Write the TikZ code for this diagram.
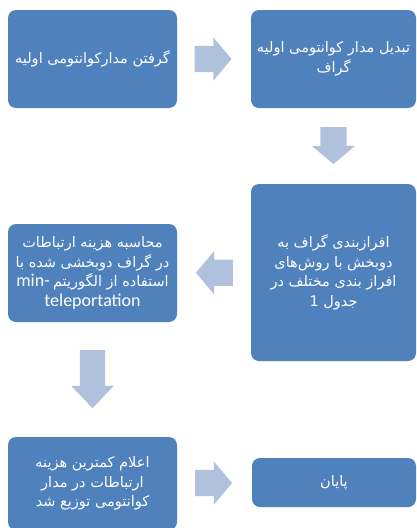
\documentclass[tikz,border=0pt]{standalone}
\usepackage{fontspec}
\setmainfont{Carlito}
\newfontfamily\arabicfont[Script=Arabic]{DejaVu Sans}
\TeXXeTstate=1
\usetikzlibrary{shapes.arrows,calc}
\definecolor{stepblue}{HTML}{4F81BD}
\definecolor{arrowblue}{HTML}{B0C1DE}
\newcommand{\fa}[1]{{\arabicfont\beginR #1\endR}}
\newcommand{\la}[1]{{\fontsize{18}{19}\selectfont #1}}
\tikzset{stage/.style={rectangle,rounded corners=8pt,fill=stepblue,text=white,align=center,inner sep=0pt,font=\fontsize{14.5}{19.5}\selectfont},flow/.style={single arrow,fill=arrowblue,inner xsep=0pt,inner ysep=13pt,single arrow head extend=8.5pt,single arrow tip angle=100,minimum height=37pt},downflow/.style={flow,shape border rotate=270,inner xsep=13pt,inner ysep=0pt}}
\begin{document}
\begin{tikzpicture}[x=1pt,y=-1pt]
\useasboundingbox (0,0) rectangle (417,528);
\clip (0,0) rectangle (417,528);
\node[stage,minimum width=169pt,minimum height=98pt] (get) at (92.5,59) {\fa{گرفتن مدارکوانتومی اولیه}};
\node[stage,minimum width=165pt,minimum height=98pt] (conv) at (333.5,59) {\fa{تبدیل مدار کوانتومی اولیه}\\\fa{گراف}};
\node[stage,minimum width=165pt,minimum height=177pt] (part) at (333.5,272.5) {\fa{افرازبندی گراف به}\\\fa{دوبخش با روش‌های}\\\fa{افراز بندی مختلف در}\\\fa{جدول 1}};
\node[stage,minimum width=169pt,minimum height=98pt] (cost) at (92.5,273) {\fa{محاسبه هزینه ارتباطات}\\\fa{در گراف دوبخشی شده با}\\\la{min-}\ \fa{استفاده از الگوریتم}\\\la{teleportation}};
\node[stage,minimum width=169pt,minimum height=93pt] (best) at (92.5,483.5) {\fa{اعلام کمترین هزینه}\\\fa{ارتباطات در مدار}\\\fa{کوانتومی توزیع شد}};
\node[stage,minimum width=164pt,minimum height=49pt] (done) at (334,482.5) {\fa{پایان}};
% block arrows between the stages
\node[flow,xshift=-6.5pt] (a1) at ($(get.east)!.5!(conv.west)$) {};
\node[downflow,yshift=6pt] (a2) at ($(conv.south)!.5!(part.north)$) {};
\node[flow,shape border rotate=180,xshift=6pt] (a3) at ($(part.west)!.5!(cost.east)$) {};
\node[downflow,minimum height=58pt,inner xsep=12.5pt,single arrow tip angle=87,yshift=7pt] (a4) at ($(cost.south)!.5!(best.north)$) {};
\node[flow,xshift=-6.5pt] (a5) at ($(best.east)!.5!(done.west)$) {};
\end{tikzpicture}
\end{document}
